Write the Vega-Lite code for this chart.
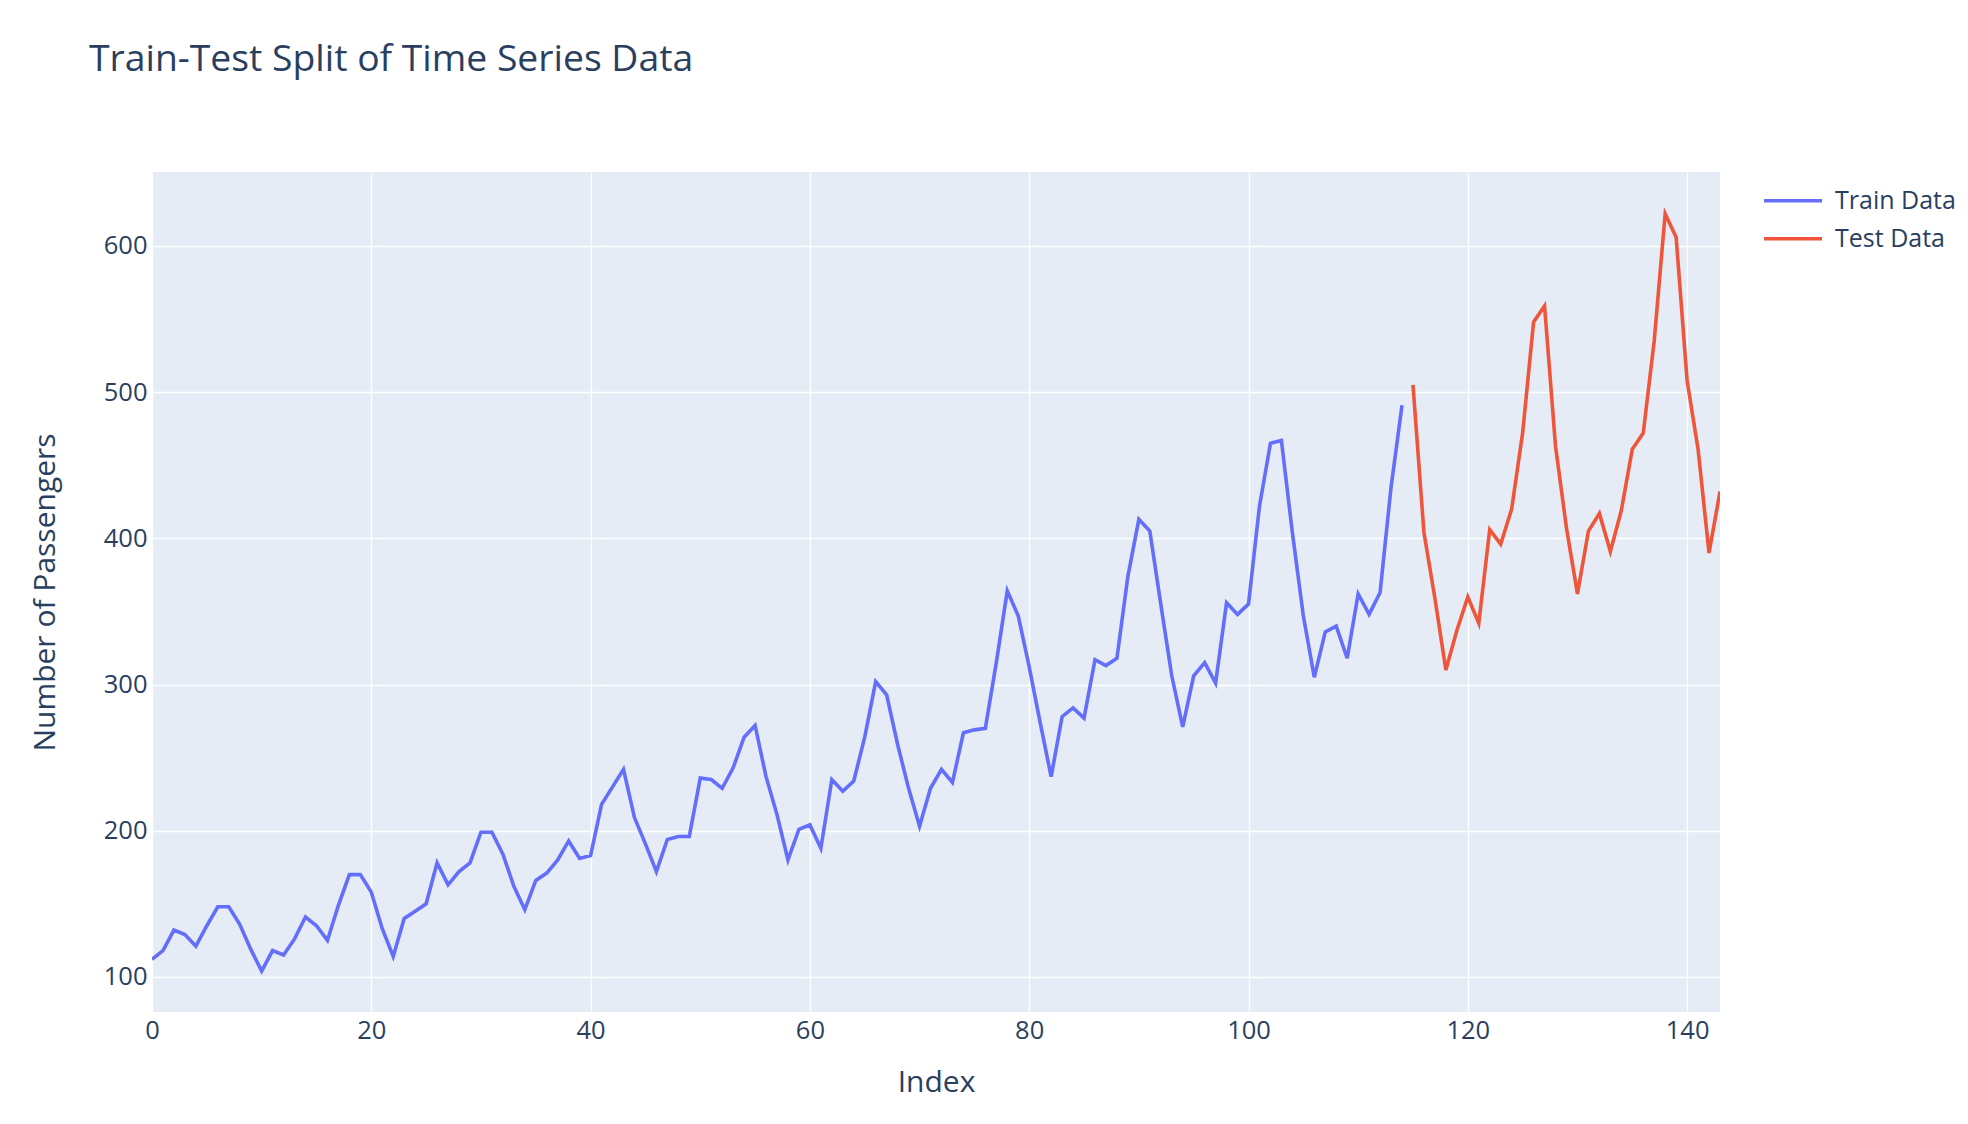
{
  "$schema": "https://vega.github.io/schema/vega-lite/v6.json",
  "width": 1568,
  "height": 840,
  "autosize": {"type": "none"},
  "padding": {"left": 152, "top": 172, "right": 248, "bottom": 112},
  "background": "white",
  "title": {
    "text": "Train-Test Split of Time Series Data",
    "anchor": "start",
    "frame": "group",
    "orient": "top",
    "baseline": "alphabetic",
    "offset": 64,
    "dx": -63,
    "font": "Open Sans",
    "fontSize": 37.3,
    "fontWeight": "normal",
    "color": "#2a3f5f"
  },
  "data": {
    "values": [
      {"i": 0, "v": 112, "s": "Train Data"}, {"i": 1, "v": 118, "s": "Train Data"}, {"i": 2, "v": 132, "s": "Train Data"},
      {"i": 3, "v": 129, "s": "Train Data"}, {"i": 4, "v": 121, "s": "Train Data"}, {"i": 5, "v": 135, "s": "Train Data"},
      {"i": 6, "v": 148, "s": "Train Data"}, {"i": 7, "v": 148, "s": "Train Data"}, {"i": 8, "v": 136, "s": "Train Data"},
      {"i": 9, "v": 119, "s": "Train Data"}, {"i": 10, "v": 104, "s": "Train Data"}, {"i": 11, "v": 118, "s": "Train Data"},
      {"i": 12, "v": 115, "s": "Train Data"}, {"i": 13, "v": 126, "s": "Train Data"}, {"i": 14, "v": 141, "s": "Train Data"},
      {"i": 15, "v": 135, "s": "Train Data"}, {"i": 16, "v": 125, "s": "Train Data"}, {"i": 17, "v": 149, "s": "Train Data"},
      {"i": 18, "v": 170, "s": "Train Data"}, {"i": 19, "v": 170, "s": "Train Data"}, {"i": 20, "v": 158, "s": "Train Data"},
      {"i": 21, "v": 133, "s": "Train Data"}, {"i": 22, "v": 114, "s": "Train Data"}, {"i": 23, "v": 140, "s": "Train Data"},
      {"i": 24, "v": 145, "s": "Train Data"}, {"i": 25, "v": 150, "s": "Train Data"}, {"i": 26, "v": 178, "s": "Train Data"},
      {"i": 27, "v": 163, "s": "Train Data"}, {"i": 28, "v": 172, "s": "Train Data"}, {"i": 29, "v": 178, "s": "Train Data"},
      {"i": 30, "v": 199, "s": "Train Data"}, {"i": 31, "v": 199, "s": "Train Data"}, {"i": 32, "v": 184, "s": "Train Data"},
      {"i": 33, "v": 162, "s": "Train Data"}, {"i": 34, "v": 146, "s": "Train Data"}, {"i": 35, "v": 166, "s": "Train Data"},
      {"i": 36, "v": 171, "s": "Train Data"}, {"i": 37, "v": 180, "s": "Train Data"}, {"i": 38, "v": 193, "s": "Train Data"},
      {"i": 39, "v": 181, "s": "Train Data"}, {"i": 40, "v": 183, "s": "Train Data"}, {"i": 41, "v": 218, "s": "Train Data"},
      {"i": 42, "v": 230, "s": "Train Data"}, {"i": 43, "v": 242, "s": "Train Data"}, {"i": 44, "v": 209, "s": "Train Data"},
      {"i": 45, "v": 191, "s": "Train Data"}, {"i": 46, "v": 172, "s": "Train Data"}, {"i": 47, "v": 194, "s": "Train Data"},
      {"i": 48, "v": 196, "s": "Train Data"}, {"i": 49, "v": 196, "s": "Train Data"}, {"i": 50, "v": 236, "s": "Train Data"},
      {"i": 51, "v": 235, "s": "Train Data"}, {"i": 52, "v": 229, "s": "Train Data"}, {"i": 53, "v": 243, "s": "Train Data"},
      {"i": 54, "v": 264, "s": "Train Data"}, {"i": 55, "v": 272, "s": "Train Data"}, {"i": 56, "v": 237, "s": "Train Data"},
      {"i": 57, "v": 211, "s": "Train Data"}, {"i": 58, "v": 180, "s": "Train Data"}, {"i": 59, "v": 201, "s": "Train Data"},
      {"i": 60, "v": 204, "s": "Train Data"}, {"i": 61, "v": 188, "s": "Train Data"}, {"i": 62, "v": 235, "s": "Train Data"},
      {"i": 63, "v": 227, "s": "Train Data"}, {"i": 64, "v": 234, "s": "Train Data"}, {"i": 65, "v": 264, "s": "Train Data"},
      {"i": 66, "v": 302, "s": "Train Data"}, {"i": 67, "v": 293, "s": "Train Data"}, {"i": 68, "v": 259, "s": "Train Data"},
      {"i": 69, "v": 229, "s": "Train Data"}, {"i": 70, "v": 203, "s": "Train Data"}, {"i": 71, "v": 229, "s": "Train Data"},
      {"i": 72, "v": 242, "s": "Train Data"}, {"i": 73, "v": 233, "s": "Train Data"}, {"i": 74, "v": 267, "s": "Train Data"},
      {"i": 75, "v": 269, "s": "Train Data"}, {"i": 76, "v": 270, "s": "Train Data"}, {"i": 77, "v": 315, "s": "Train Data"},
      {"i": 78, "v": 364, "s": "Train Data"}, {"i": 79, "v": 347, "s": "Train Data"}, {"i": 80, "v": 312, "s": "Train Data"},
      {"i": 81, "v": 274, "s": "Train Data"}, {"i": 82, "v": 237, "s": "Train Data"}, {"i": 83, "v": 278, "s": "Train Data"},
      {"i": 84, "v": 284, "s": "Train Data"}, {"i": 85, "v": 277, "s": "Train Data"}, {"i": 86, "v": 317, "s": "Train Data"},
      {"i": 87, "v": 313, "s": "Train Data"}, {"i": 88, "v": 318, "s": "Train Data"}, {"i": 89, "v": 374, "s": "Train Data"},
      {"i": 90, "v": 413, "s": "Train Data"}, {"i": 91, "v": 405, "s": "Train Data"}, {"i": 92, "v": 355, "s": "Train Data"},
      {"i": 93, "v": 306, "s": "Train Data"}, {"i": 94, "v": 271, "s": "Train Data"}, {"i": 95, "v": 306, "s": "Train Data"},
      {"i": 96, "v": 315, "s": "Train Data"}, {"i": 97, "v": 301, "s": "Train Data"}, {"i": 98, "v": 356, "s": "Train Data"},
      {"i": 99, "v": 348, "s": "Train Data"}, {"i": 100, "v": 355, "s": "Train Data"}, {"i": 101, "v": 422, "s": "Train Data"},
      {"i": 102, "v": 465, "s": "Train Data"}, {"i": 103, "v": 467, "s": "Train Data"}, {"i": 104, "v": 404, "s": "Train Data"},
      {"i": 105, "v": 347, "s": "Train Data"}, {"i": 106, "v": 305, "s": "Train Data"}, {"i": 107, "v": 336, "s": "Train Data"},
      {"i": 108, "v": 340, "s": "Train Data"}, {"i": 109, "v": 318, "s": "Train Data"}, {"i": 110, "v": 362, "s": "Train Data"},
      {"i": 111, "v": 348, "s": "Train Data"}, {"i": 112, "v": 363, "s": "Train Data"}, {"i": 113, "v": 435, "s": "Train Data"},
      {"i": 114, "v": 491, "s": "Train Data"},
      {"i": 115, "v": 505, "s": "Test Data"}, {"i": 116, "v": 404, "s": "Test Data"}, {"i": 117, "v": 359, "s": "Test Data"},
      {"i": 118, "v": 310, "s": "Test Data"}, {"i": 119, "v": 337, "s": "Test Data"}, {"i": 120, "v": 360, "s": "Test Data"},
      {"i": 121, "v": 342, "s": "Test Data"}, {"i": 122, "v": 406, "s": "Test Data"}, {"i": 123, "v": 396, "s": "Test Data"},
      {"i": 124, "v": 420, "s": "Test Data"}, {"i": 125, "v": 472, "s": "Test Data"}, {"i": 126, "v": 548, "s": "Test Data"},
      {"i": 127, "v": 559, "s": "Test Data"}, {"i": 128, "v": 463, "s": "Test Data"}, {"i": 129, "v": 407, "s": "Test Data"},
      {"i": 130, "v": 362, "s": "Test Data"}, {"i": 131, "v": 405, "s": "Test Data"}, {"i": 132, "v": 417, "s": "Test Data"},
      {"i": 133, "v": 391, "s": "Test Data"}, {"i": 134, "v": 419, "s": "Test Data"}, {"i": 135, "v": 461, "s": "Test Data"},
      {"i": 136, "v": 472, "s": "Test Data"}, {"i": 137, "v": 535, "s": "Test Data"}, {"i": 138, "v": 622, "s": "Test Data"},
      {"i": 139, "v": 606, "s": "Test Data"}, {"i": 140, "v": 508, "s": "Test Data"}, {"i": 141, "v": 461, "s": "Test Data"},
      {"i": 142, "v": 390, "s": "Test Data"}, {"i": 143, "v": 432, "s": "Test Data"}
    ]
  },
  "mark": {"type": "line", "strokeWidth": 3.6, "clip": true},
  "encoding": {
    "x": {
      "field": "i",
      "type": "quantitative",
      "title": "Index",
      "scale": {"domain": [0, 143], "nice": false, "zero": false},
      "axis": {
        "values": [0, 20, 40, 60, 80, 100, 120, 140],
        "labelFlush": false,
        "titleX": 784,
        "titleY": 70,
        "titleBaseline": "middle",
        "labelPadding": 6
      }
    },
    "y": {
      "field": "v",
      "type": "quantitative",
      "title": "Number of Passengers",
      "scale": {"domain": [76, 650.6], "nice": false, "zero": false},
      "axis": {
        "values": [100, 200, 300, 400, 500, 600],
        "labelFlush": false,
        "titleX": -107,
        "titleY": 420,
        "titleBaseline": "middle",
        "labelPadding": 5
      }
    },
    "color": {
      "field": "s",
      "type": "nominal",
      "title": null,
      "scale": {"domain": ["Train Data", "Test Data"], "range": ["#636efa", "#EF553B"]},
      "legend": {
        "orient": "none",
        "legendX": 1610,
        "legendY": 10,
        "symbolType": "stroke",
        "symbolSize": 3364,
        "symbolStrokeWidth": 3.6,
        "clipHeight": 37.5,
        "labelFontSize": 25,
        "labelOffset": 11,
        "rowPadding": 0,
        "labelColor": "#2a3f5f",
        "labelFont": "Open Sans"
      }
    }
  },
  "config": {
    "font": "Open Sans",
    "view": {"fill": "#E5ECF6", "stroke": null},
    "axis": {
      "domain": false,
      "ticks": false,
      "tickSize": 0,
      "grid": true,
      "gridColor": "white",
      "gridWidth": 1.4,
      "labelFont": "Open Sans",
      "labelFontSize": 25.5,
      "labelColor": "#2a3f5f",
      "titleFont": "Open Sans",
      "titleFontSize": 30,
      "titleFontWeight": "normal",
      "titleColor": "#2a3f5f"
    }
  }
}
